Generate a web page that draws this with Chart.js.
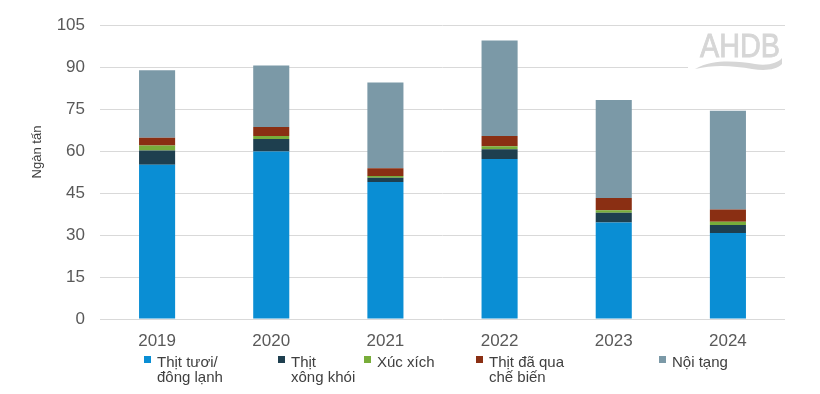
<!DOCTYPE html>
<html>
<head>
<meta charset="utf-8">
<script src="https://cdn.jsdelivr.net/npm/chart.js@4.4.1/dist/chart.umd.min.js"></script>
<style>
html,body{margin:0;padding:0;background:#fff;}
#wrap{position:relative;width:820px;height:394px;}
</style>
</head>
<body>
<div id="wrap"><canvas id="c" width="820" height="394"></canvas></div>
<script>
// ---- data ----
const years = ["2019", "2020", "2021", "2022", "2023", "2024"];
const thitTuoi   = [55.1, 59.9, 49.0, 57.2, 34.5, 30.7];
const thitXong   = [5.1, 4.4, 1.5, 3.5, 3.5, 2.9];
const xucXich    = [1.8, 1.1, 0.6, 1.0, 0.9, 1.2];
const thitCheBien= [2.8, 3.2, 2.8, 3.7, 4.3, 4.3];
const noiTang    = [24.1, 22.0, 30.6, 34.1, 35.1, 35.3];
const yTicks = [0, 15, 30, 45, 60, 75, 90, 105];
const seriesNames = [["Thịt tươi/", "đông lạnh"], ["Thịt", "xông khói"], ["Xúc xích"], ["Thịt đã qua", "chế biến"], ["Nội tạng"]];
const yTitle = "Ngàn tấn";

const colors = ["#0A8ED4", "#1E3F4F", "#78AD3A", "#8A2F13", "#7B99A7"];
const seriesData = [thitTuoi, thitXong, xucXich, thitCheBien, noiTang];

const FONT = "'Liberation Sans', Arial, sans-serif";
const legendLeft = [144, 278, 364, 476, 659];

const customDraw = {
  id: 'customDraw',
  beforeDatasetsDraw(chart) {
    const ctx = chart.ctx;
    // watermark
    ctx.save();
    ctx.fillStyle = '#ffffff';
    ctx.fillRect(688, 56, 100, 16);
    ctx.fillStyle = '#D6D6D6';
    ctx.font = "30px " + FONT;
    ctx.textBaseline = 'alphabetic';
    ctx.textAlign = 'left';
    ctx.save();
    ctx.translate(700, 57);
    ctx.scale(0.96, 1.1);
    ctx.fillText("AHDB", 0, 0);
    ctx.strokeStyle = '#D6D6D6';
    ctx.lineWidth = 0.8;
    ctx.strokeText("AHDB", 0, 0);
    ctx.restore();
    ctx.beginPath();
    ctx.moveTo(695, 69);
    ctx.bezierCurveTo(715, 58, 740, 62, 755, 64);
    ctx.bezierCurveTo(768, 66, 778, 63, 782, 58);
    ctx.lineTo(782, 64);
    ctx.bezierCurveTo(776, 70, 765, 71, 752, 69);
    ctx.bezierCurveTo(735, 66, 715, 64, 695, 69);
    ctx.closePath();
    ctx.fill();
    ctx.restore();
  },
  afterDraw(chart) {
    const ctx = chart.ctx;
    ctx.save();
    // y title
    ctx.fillStyle = '#404040';
    ctx.font = "13px " + FONT;
    ctx.textAlign = 'center';
    ctx.textBaseline = 'middle';
    ctx.translate(37, 152);
    ctx.rotate(-Math.PI / 2);
    ctx.fillText(yTitle, 0, 0);
    ctx.restore();
    // legend
    ctx.save();
    ctx.font = "15px " + FONT;
    ctx.textAlign = 'left';
    ctx.textBaseline = 'alphabetic';
    seriesNames.forEach((lines, i) => {
      const x = legendLeft[i];
      ctx.fillStyle = colors[i];
      ctx.fillRect(x, 356, 7, 7);
      ctx.fillStyle = '#404040';
      lines.forEach((t, j) => ctx.fillText(t, x + 13, 367 + j * 15));
    });
    ctx.restore();
  }
};

new Chart(document.getElementById('c'), {
  type: 'bar',
  data: {
    labels: years,
    datasets: seriesData.map((d, i) => ({
      label: seriesNames[i].join(' '),
      data: d,
      backgroundColor: colors[i],
      borderWidth: 0,
      categoryPercentage: 1,
      barPercentage: 0.316
    }))
  },
  options: {
    responsive: false,
    animation: false,
    layout: { padding: { top: 20, right: 35, left: 0, bottom: 0 } },
    plugins: { legend: { display: false }, tooltip: { enabled: false } },
    scales: {
      x: {
        stacked: true,
        grid: { display: false, drawTicks: false },
        border: { display: false },
        ticks: { color: '#595959', font: { size: 17, family: FONT }, padding: 12, maxRotation: 0 },
        afterFit(s) { s.height = 75; }
      },
      y: {
        stacked: true,
        min: 0, max: 105,
        afterBuildTicks(s) { s.ticks = yTicks.map(v => ({ value: v })); },
        grid: { color: '#D9D9D9', drawTicks: false, lineWidth: 1 },
        border: { display: false },
        ticks: { color: '#595959', font: { size: 17, family: FONT }, padding: 15 },
        afterFit(s) { s.width = 100; }
      }
    }
  },
  plugins: [customDraw]
});
</script>
</body>
</html>
